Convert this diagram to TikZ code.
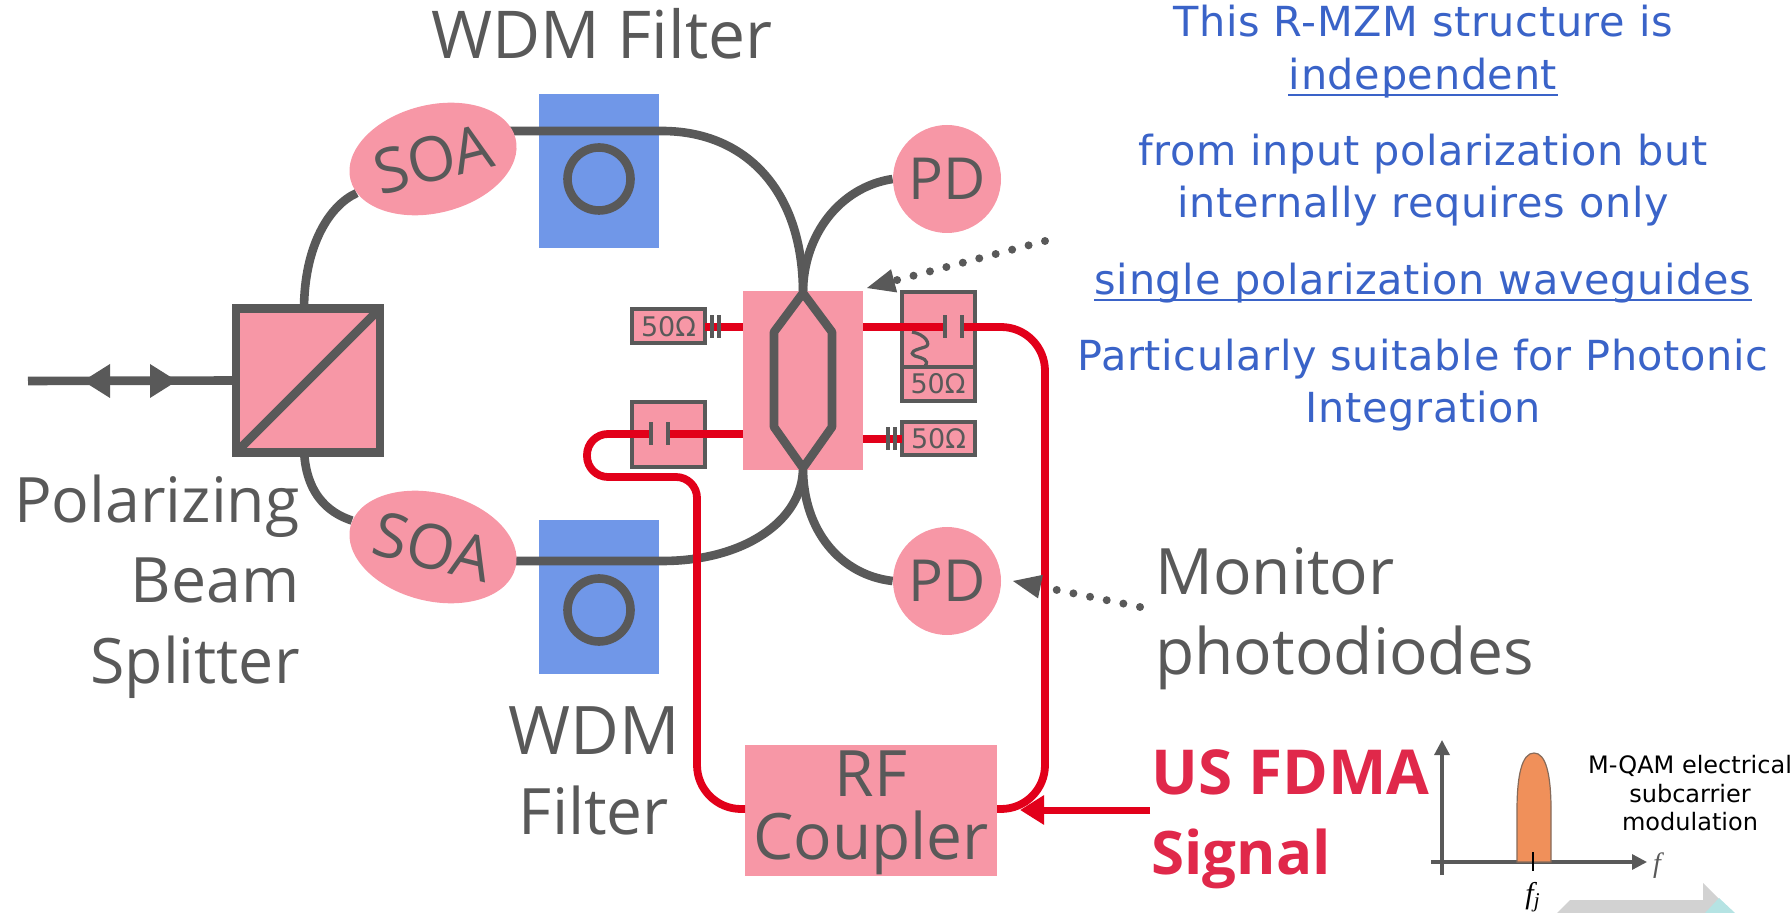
\documentclass[tikz,border=0pt]{standalone}
\usepackage{fontspec}
\setmainfont{Open Sans}
\newfontfamily\vfont{DejaVu Sans}
\newfontfamily\bfont[LetterSpace=1.6]{DejaVu Sans}
\newfontfamily\ifont{Liberation Serif}
\usetikzlibrary{arrows.meta,shapes.geometric,backgrounds}
\definecolor{gr}{HTML}{595959}
\definecolor{pk}{HTML}{F797A6}
\definecolor{bl}{HTML}{7097E8}
\definecolor{rd}{HTML}{E2001A}
\definecolor{tb}{HTML}{3A63C8}
\definecolor{rt}{HTML}{E0284A}
\definecolor{og}{HTML}{F0905A}
\definecolor{tl}{HTML}{B5E3E3}
\definecolor{lg}{HTML}{D2D2D2}
\tikzset{
 wg/.style={draw=gr,line width=4.3pt},
 rf/.style={draw=rd,line width=3.9pt},
 cbox/.style={draw=gr,line width=2pt,fill=pk,inner sep=0pt,minimum width=36.5pt,outer sep=0pt},
 capbar/.style={draw=gr,line width=2pt},
 lab/.style={font=\fontsize{32}{40}\selectfont,text=gr,inner sep=0pt},
 pbstxt/.style={font=\fontsize{31.3}{40}\selectfont,text=gr,inner sep=0pt,anchor=base east},
 ohm/.style={font=\vfont\fontsize{13.5}{16}\selectfont,text=gr,inner sep=0pt},
 blue/.style={font=\bfont\fontsize{20.7}{24}\selectfont,text=tb,inner sep=0pt,anchor=base},
 uline/.style={draw=tb,line width=1pt},
 redt/.style={font=\bfseries\fontsize{31}{34}\selectfont,text=rt,anchor=base west,inner sep=0pt},
 soa/.style={ellipse,fill=pk,minimum width=81.5pt,minimum height=54pt,inner sep=0pt,font=\fontsize{31}{30}\selectfont,text=gr},
 pd/.style={circle,fill=pk,minimum size=54pt,inner sep=0pt,font=\fontsize{29}{30}\selectfont,text=gr},
 dotl/.style={draw=gr,line width=4pt,line cap=round,dash pattern=on 0pt off 8.5pt,-{Triangle[length=14pt,width=12pt,line width=0pt]}},
 axisl/.style={draw=gr,line width=1.6pt,-{Triangle[length=7.5pt,width=7.5pt]}},
 smalltxt/.style={font=\vfont\fontsize{12}{15}\selectfont,text=black,inner sep=0pt,anchor=base},
 bluerect/.style={fill=bl,minimum width=60pt,minimum height=77pt,inner sep=0pt},
}
\begin{document}
\begin{tikzpicture}[x=0.5pt,y=-0.5pt]
\useasboundingbox (0,0) rectangle (1791,913);
% bottom corner shapes
\fill[lg] (1557,913) -- (1570,900) -- (1703,900) -- (1703,883) -- (1733,913) -- cycle;
\fill[tl] (1705,913) -- (1719,898) -- (1735,913) -- cycle;
% main nodes
\node[fill=pk,minimum width=60pt,minimum height=89.5pt,inner sep=0pt,outer sep=0pt] (mzm) at (803,380.5) {};
\coordinate (wgt) at (803,293);
\coordinate (wgb) at (803,468);
\coordinate (inp) at (28,381);
\node[draw=gr,line width=4.3pt,fill=pk,minimum size=72pt,inner sep=0pt,outer sep=0pt] (pbs) at (308,380.5) {};
\node[soa,rotate=14] (soat) at (433,159) {SOA};
\node[soa,rotate=-14] (soab) at (433,547) {SOA};
\node[pd] (pdt) at (947,179) {PD};
\node[pd] (pdb) at (947,581) {PD};
% filter blocks and waveguides behind the nodes
\begin{scope}[on background layer]
\node[bluerect] (wt) at (599,171) {};
\node[bluerect] (wb) at (599,597) {};
\path[wg] (soat |- 0,131) -- (662,131) .. controls (745,131) and (803,190) .. (wgt);
\path[wg] (soab |- 0,561) -- (662,561) .. controls (745,561) and (803,520) .. (wgb);
\path[wg] (pdt) -- (pdt.west) .. controls (840,187) and (803,235) .. (wgt);
\path[wg] (pdb) -- (pdb.west) .. controls (840,575) and (803,530) .. (wgb);
\path[wg] (304,310) .. controls (304,245) and (330,205) .. (soat);
\path[wg] (304,450) .. controls (306,500) and (335,515) .. (soab);
\end{scope}
\node[circle,draw=gr,line width=4.3pt,minimum size=31.5pt,inner sep=0pt] (ringt) at (599,179) {};
\node[circle,draw=gr,line width=4.3pt,minimum size=31.5pt,inner sep=0pt] (ringb) at (599,610) {};
% PBS diagonal and input
\draw[wg,shorten <=1pt,shorten >=1pt] (pbs.south west) -- (pbs.north east);
\draw[wg] (inp) -- (pbs.west);
\fill[gr] (83,381) -- (110,364) -- (110,398) -- cycle;
\fill[gr] (177,381) -- (150,364) -- (150,398) -- cycle;
% modulator arms
\draw[wg,line join=round] (wgt) -- (774,332) -- (774,427) -- (wgb) -- (832,427) -- (832,332) -- cycle;
% electrical boxes
\node[cbox,minimum height=17pt] (termL) at (668.5,326.5) {};
\node[ohm] at (termL) {50Ω};
\node[cbox,minimum height=32.5pt] (capL) at (668.5,434.5) {};
\node[cbox,minimum height=54.5pt] (capR) at (938.5,346.5) {};
\draw[capbar] (capR.west |- 0,367) -- (capR.east |- 0,367);
\node[ohm] at (938,384) {50Ω};
\node[cbox,minimum height=16.5pt] (termR) at (938.5,439) {};
\node[ohm] at (termR) {50Ω};
\node[fill=pk,minimum width=126pt,minimum height=65.5pt,inner sep=0pt,outer sep=0pt] (rfc) at (871,810.5) {};
\node[lab,anchor=base] at (871,796) {RF};
\node[lab,anchor=base] at (871,859) {Coupler};
% RF lines
\coordinate (bLa) at (651,434);
\coordinate (bLb) at (668,434);
\coordinate (bRa) at (945,327);
\coordinate (bRb) at (962,327);
\path[rf] (mzm.west |- 0,327) -- (termL.east |- 0,327);
\path[rf] (mzm.east |- 0,439) -- (termR.west);
\path[rf] (mzm.west |- 0,434) -- (bLb);
\path[rf] (mzm.east |- 0,327) -- (bRa);
\path[rf,rounded corners=10.5pt] (bLa) -- (587,434) -- (587,477) -- (697,477) [rounded corners=22pt] -- (697,809) -- (rfc.west |- 0,809);
\path[rf,rounded corners=22pt] (bRb) -- (1045,327) -- (1045,809) -- (rfc.east |- 0,809);
\draw[capbar] (bLa) ++(0,-11.5) -- ++(0,23);
\draw[capbar] (bLb) ++(0,-11.5) -- ++(0,23);
\draw[capbar] (bRa) ++(0,-11.5) -- ++(0,23);
\draw[capbar] (bRb) ++(0,-11.5) -- ++(0,23);
\draw[capbar] (712,315.5) -- (712,338.5);
\draw[capbar] (719,315.5) -- (719,338.5);
\draw[capbar] (888,427.5) -- (888,450.5);
\draw[capbar] (895,427.5) -- (895,450.5);
\draw[gr,line width=1.6pt] (912,332) .. controls (925,334) and (932,345) .. (925,347) .. controls (915,350) and (908,352) .. (915,356) .. controls (922,358) and (930,360) .. (925,366);
% dotted pointers
\coordinate (ptA) at (1045,241);
\coordinate (ptAt) at (867,288);
\coordinate (ptB) at (1140,607);
\coordinate (ptBt) at (1013,581);
\draw[dotl] (ptA) -- (ptAt);
\draw[dotl] (ptB) -- (ptBt);
% signal arrow
\coordinate (sig) at (1150,810);
\draw[draw=rd,line width=3.5pt,-{Triangle[length=12pt,width=14pt]},shorten >=11.5pt] (sig) -- (rfc.east |- sig);
% labels
\node[lab,font=\fontsize{33}{40}\selectfont,anchor=base] at (602,59) {WDM Filter};
\node[lab,font=\fontsize{33.5}{40}\selectfont,anchor=base] at (594,754) {WDM};
\node[lab,anchor=base] at (594,834) {Filter};
\node[pbstxt] at (300,523) {Polarizing};
\node[pbstxt] at (300,603) {Beam};
\node[pbstxt] at (300,683) {Splitter};
\node[lab,anchor=base west] at (1155,595) {Monitor};
\node[lab,anchor=base west] at (1155,674) {photodiodes};
\node[redt] at (1151,794) {US FDMA};
\node[redt,font=\bfseries\fontsize{30}{34}\selectfont] at (1151,874) {Signal};
% blue text
\node[blue] at (1423,37) {This R-MZM structure is};
\node[blue] (u1) at (1423,90) {independent};
\draw[uline] ([yshift=-2.5pt]u1.base west) -- ([yshift=-2.5pt]u1.base east);
\node[blue] at (1423,166) {from input polarization but};
\node[blue] at (1423,218) {internally requires only};
\node[blue] (u2) at (1423,295) {single polarization waveguides};
\draw[uline] ([yshift=-2.5pt]u2.base west) -- ([yshift=-2.5pt]u2.base east);
\node[blue] at (1423,371) {Particularly suitable for Photonic};
\node[blue] at (1423,423) {Integration};
% spectrum sketch
\coordinate (ox) at (1431,862);
\coordinate (oxe) at (1647,862);
\coordinate (oy) at (1442,875);
\coordinate (oye) at (1442,740);
\draw[axisl] (ox) -- (oxe);
\draw[axisl] (oy) -- (oye);
\filldraw[fill=og,draw=gr!70!og,line width=0.6pt] (1517,862) -- (1517,810) .. controls (1517,775) and (1522,753) .. (1534,753) .. controls (1546,753) and (1551,775) .. (1551,810) -- (1551,862) -- cycle;
\draw[black,line width=1.3pt] (1533,852) -- (1533,871);
\node[font=\ifont\itshape\fontsize{14}{14}\selectfont,text=gr,inner sep=0pt] at (1657,866) {f};
\node[font=\ifont\itshape\fontsize{15}{15}\selectfont,text=black,inner sep=0pt,anchor=base] at (1533,903) {f\textsubscript{j}};
\node[smalltxt] at (1690,773) {M-QAM electrical};
\node[smalltxt] at (1690,802) {subcarrier};
\node[smalltxt] at (1690,830) {modulation};
\end{tikzpicture}
\end{document}
